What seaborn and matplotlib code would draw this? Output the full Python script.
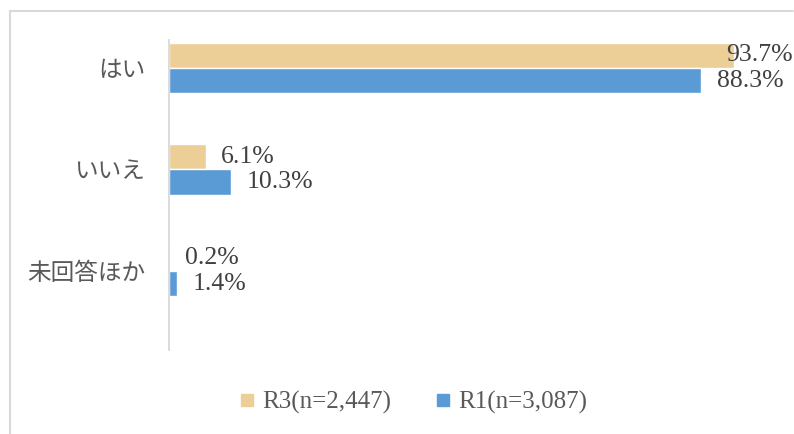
import numpy as np
import pandas as pd
import matplotlib.pyplot as plt
from matplotlib.lines import Line2D
import seaborn as sns

categories = ['はい', 'いいえ', '未回答ほか']
series = ['R3(n=2,447)', 'R1(n=3,087)']
r3_values = [93.7, 6.1, 0.2]
r1_values = [88.3, 10.3, 1.4]

df = pd.DataFrame({
    'category': categories * 2,
    'series': [series[0]] * 3 + [series[1]] * 3,
    'value': r3_values + r1_values,
})

sns.set_style('white')
plt.rcParams['font.family'] = ['Liberation Serif', 'Noto Sans CJK JP', 'DejaVu Sans']

fig = plt.figure(figsize=(7.94, 4.34), dpi=100)
ax = fig.add_axes([0.2128, 0.1935, 0.7592, 0.7143])

palette = {series[0]: '#EBCF97', series[1]: '#5B9BD5'}
sns.barplot(
    data=df, y='category', x='value', hue='series',
    order=categories, hue_order=series, palette=palette,
    orient='h', width=0.5, saturation=1, ax=ax, legend=False,
)

ax.set_xlim(0, 100)
ax.set_ylim(2.78, -0.276)
ax.set_xlabel('')
ax.set_ylabel('')
ax.set_xticks([])
ax.tick_params(axis='y', length=0, pad=17, labelsize=17, labelcolor='#595959')
for lab in ax.get_yticklabels():
    lab.set_fontfamily(['Noto Sans CJK JP', 'DejaVu Sans'])

for s in ['top', 'right', 'bottom']:
    ax.spines[s].set_visible(False)
ax.spines['left'].set_color('#D9D9D9')
ax.spines['left'].set_linewidth(1.3)

# value labels
label_color = '#404040'
for i, cat in enumerate(categories):
    for j, (vals, off) in enumerate([(r3_values, -0.125), (r1_values, 0.125)]):
        v = vals[i]
        txt = f'{v:.1f}%'
        if v > 90:
            ax.annotate(txt, xy=(1, i + off), xycoords=('axes fraction', 'data'),
                        xytext=(15, 0), textcoords='offset points',
                        ha='right', va='center', fontsize=18.5, color=label_color)
        else:
            ax.annotate(txt, xy=(v, i + off), xytext=(11, 0), textcoords='offset points',
                        ha='left', va='center', fontsize=18.5, color=label_color)

# legend
handles = [Line2D([], [], marker='s', linestyle='none', markersize=9,
                  markerfacecolor=palette[s], markeredgecolor=palette[s]) for s in series]
fig.legend(handles, series, loc='center', bbox_to_anchor=(0.516, 0.073), ncol=2,
           frameon=False, labelcolor='#595959', handletextpad=0.0, handlelength=1.2,
           columnspacing=1.5, prop={'family': ['Liberation Serif', 'Noto Sans CJK JP'], 'size': 18})

# chart area border (top and left visible)
fig.add_artist(Line2D([0.0125, 0.999], [0.974, 0.974], transform=fig.transFigure,
                      color='#D9D9D9', lw=1.5))
fig.add_artist(Line2D([0.0125, 0.0125], [0.0, 0.974], transform=fig.transFigure,
                      color='#D9D9D9', lw=1.5))

fig.savefig('out.png', dpi=100)
